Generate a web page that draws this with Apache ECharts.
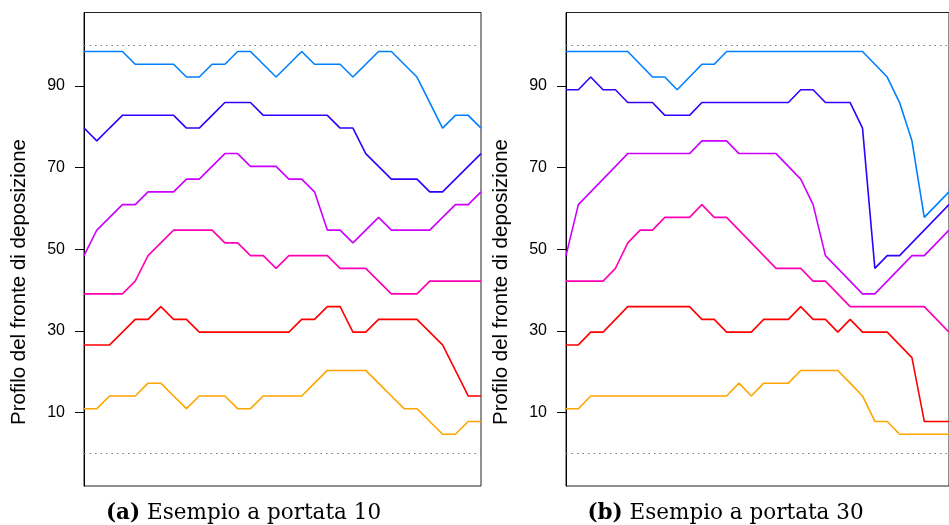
<!DOCTYPE html>
<html>
<head>
<meta charset="utf-8">
<script src="https://cdn.jsdelivr.net/npm/echarts@6/dist/echarts.min.js"></script>
<style>html,body{margin:0;padding:0;background:#fff}#c{width:949px;height:525px}</style>
</head>
<body>
<div id="c"></div>
<script>
// ---- data ----
const steps = [1,2,3,4,5,6,7,8,9,10,11,12,13,14,15,16,17,18,19,20,21,22,23,24,25,26,27,28,29,30,31,32];
const yTicks = [10, 30, 50, 70, 90];
const refLines = [0, 100];

// panel (a) – portata 10
const a_blue   = [98.44,98.44,98.44,98.44,95.31,95.31,95.31,95.31,92.19,92.19,95.31,95.31,98.44,98.44,95.31,92.19,95.31,98.44,95.31,95.31,95.31,92.19,95.31,98.44,98.44,95.31,92.19,85.94,79.69,82.81,82.81,79.69];
const a_indigo = [79.69,76.56,79.69,82.81,82.81,82.81,82.81,82.81,79.69,79.69,82.81,85.94,85.94,85.94,82.81,82.81,82.81,82.81,82.81,82.81,79.69,79.69,73.44,70.31,67.19,67.19,67.19,64.06,64.06,67.19,70.31,73.44];
const a_violet = [48.44,54.69,57.81,60.94,60.94,64.06,64.06,64.06,67.19,67.19,70.31,73.44,73.44,70.31,70.31,70.31,67.19,67.19,64.06,54.69,54.69,51.56,54.69,57.81,54.69,54.69,54.69,54.69,57.81,60.94,60.94,64.06];
const a_pink   = [39.06,39.06,39.06,39.06,42.19,48.44,51.56,54.69,54.69,54.69,54.69,51.56,51.56,48.44,48.44,45.31,48.44,48.44,48.44,48.44,45.31,45.31,45.31,42.19,39.06,39.06,39.06,42.19,42.19,42.19,42.19,42.19];
const a_red    = [26.56,26.56,26.56,29.69,32.81,32.81,35.94,32.81,32.81,29.69,29.69,29.69,29.69,29.69,29.69,29.69,29.69,32.81,32.81,35.94,35.94,29.69,29.69,32.81,32.81,32.81,32.81,29.69,26.56,20.31,14.06,14.06];
const a_orange = [10.94,10.94,14.06,14.06,14.06,17.19,17.19,14.06,10.94,14.06,14.06,14.06,10.94,10.94,14.06,14.06,14.06,14.06,17.19,20.31,20.31,20.31,20.31,17.19,14.06,10.94,10.94,7.81,4.69,4.69,7.81,7.81];

// panel (b) – portata 30
const b_blue   = [98.44,98.44,98.44,98.44,98.44,98.44,95.31,92.19,92.19,89.06,92.19,95.31,95.31,98.44,98.44,98.44,98.44,98.44,98.44,98.44,98.44,98.44,98.44,98.44,98.44,95.31,92.19,85.94,76.56,57.81,60.94,64.06];
const b_indigo = [89.06,89.06,92.19,89.06,89.06,85.94,85.94,85.94,82.81,82.81,82.81,85.94,85.94,85.94,85.94,85.94,85.94,85.94,85.94,89.06,89.06,85.94,85.94,85.94,79.69,45.31,48.44,48.44,51.56,54.69,57.81,60.94];
const b_violet = [48.44,60.94,64.06,67.19,70.31,73.44,73.44,73.44,73.44,73.44,73.44,76.56,76.56,76.56,73.44,73.44,73.44,73.44,70.31,67.19,60.94,48.44,45.31,42.19,39.06,39.06,42.19,45.31,48.44,48.44,51.56,54.69];
const b_pink   = [42.19,42.19,42.19,42.19,45.31,51.56,54.69,54.69,57.81,57.81,57.81,60.94,57.81,57.81,54.69,51.56,48.44,45.31,45.31,45.31,42.19,42.19,39.06,35.94,35.94,35.94,35.94,35.94,35.94,35.94,32.81,29.69];
const b_red    = [26.56,26.56,29.69,29.69,32.81,35.94,35.94,35.94,35.94,35.94,35.94,32.81,32.81,29.69,29.69,29.69,32.81,32.81,32.81,35.94,32.81,32.81,29.69,32.81,29.69,29.69,29.69,26.56,23.44,7.81,7.81,7.81];
const b_orange = [10.94,10.94,14.06,14.06,14.06,14.06,14.06,14.06,14.06,14.06,14.06,14.06,14.06,14.06,17.19,14.06,17.19,17.19,17.19,20.31,20.31,20.31,20.31,17.19,14.06,7.81,7.81,4.69,4.69,4.69,4.69,4.69];

const yLabel = 'Profilo del fronte di deposizione';
const captionA = ['(a)', 'Esempio a portata 10'];
const captionB = ['(b)', 'Esempio a portata 30'];

// ---- styling ----
const colors = ['#0080FF', '#3300FF', '#CC00FF', '#FF00B2', '#FF0000', '#FFA500'];
const panels = [
  [a_blue, a_indigo, a_violet, a_pink, a_red, a_orange],
  [b_blue, b_indigo, b_violet, b_pink, b_red, b_orange]
];
const gridLeft = [84, 566];
const gridW = 397, gridTop = 12.5, gridH = 473.5;

const chart = echarts.init(document.getElementById('c'), null, {renderer: 'canvas'});

const grids = gridLeft.map(l => ({left: l, top: gridTop, width: gridW, height: gridH,
  show: true, borderColor: '#222', borderWidth: 1, backgroundColor: 'transparent', containLabel: false}));
const xAxes = gridLeft.map((l, i) => ({type: 'category', gridIndex: i, data: steps, boundaryGap: false, show: false}));
const yAxes = gridLeft.map((l, i) => ({
  type: 'value', gridIndex: i, min: -8, max: 108,
  axisLine: {show: true, lineStyle: {color: '#000', width: 1}},
  axisTick: {show: true, length: 9, customValues: yTicks, lineStyle: {color: '#000'}},
  axisLabel: {customValues: yTicks, color: '#000', fontSize: 16, fontFamily: 'Liberation Sans', margin: 19},
  splitLine: {show: false}
}));

const series = [];
panels.forEach((arr, p) => {
  arr.forEach((d, j) => {
    const s = {type: 'line', xAxisIndex: p, yAxisIndex: p, data: d, symbol: 'none',
      lineStyle: {color: colors[j], width: 1.6}, itemStyle: {color: colors[j]}, animation: false, z: 3};
    if (j === 0) {
      s.markLine = {silent: true, symbol: 'none', animation: false,
        label: {show: false},
        lineStyle: {type: [1.5, 4], color: '#777', width: 1},
        data: refLines.map(v => ({yAxis: v}))};
    }
    series.push(s);
  });
});

const graphic = [];
gridLeft.forEach((l, i) => {
  graphic.push({type: 'text', x: l - 65, y: 282, rotation: Math.PI / 2,
    style: {text: yLabel, font: '20.5px "Liberation Sans"', fill: '#000', align: 'center', verticalAlign: 'middle'}});
});
[[captionA, 243.5], [captionB, 725.5]].forEach(([c, cx]) => {
  graphic.push({type: 'text', x: cx, y: 513.5,
    style: {text: '{b|' + c[0] + '} ' + c[1], fill: '#000', align: 'center', verticalAlign: 'middle',
      font: '21.5px "DejaVu Serif"',
      rich: {b: {fontWeight: 'bold', fontSize: 21.5, fontFamily: 'DejaVu Serif'}}}});
});

chart.setOption({animation: false, grid: grids, xAxis: xAxes, yAxis: yAxes, series, graphic});
</script>
</body>
</html>
